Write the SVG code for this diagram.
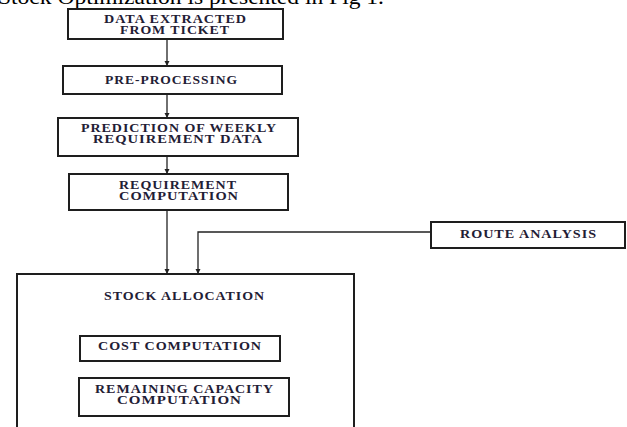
<svg xmlns="http://www.w3.org/2000/svg" width="627" height="427" viewBox="0 0 627 427">
<defs>
<marker id="ah" markerWidth="6" markerHeight="6" refX="5" refY="3" orient="auto" markerUnits="userSpaceOnUse">
<path d="M0,0.5 L5,3 L0,5.5 Z" fill="#222"/>
</marker>
<style>
.box{fill:#fff;stroke:#1e1e1e;stroke-width:2}
.lbl{font-family:"Liberation Serif","Times New Roman",serif;font-weight:bold;font-size:11.5px;letter-spacing:0.8px;fill:#1f2035;text-anchor:middle}
.con{fill:none;stroke:#222;stroke-width:1.3;marker-end:url(#ah)}
.cap{font-family:"Liberation Serif","Times New Roman",serif;font-size:20px;fill:#000}
</style>
</defs>
<rect width="627" height="427" fill="#fff"/>
<text class="cap" x="-2" y="4" textLength="386" lengthAdjust="spacingAndGlyphs">Stock Optimization is presented in Fig 1.</text>
<g id="connectors">
<path class="con" d="M167,39 V66"/>
<path class="con" d="M167,94 V118"/>
<path class="con" d="M167,156 V174"/>
<path class="con" d="M167,210 V274"/>
<path class="con" d="M431,232 H198 V274"/>
</g>
<g id="n1">
<rect class="box" x="68" y="9" width="215" height="30"/>
<text class="lbl" x="175.5" y="23" textLength="143" lengthAdjust="spacingAndGlyphs">DATA EXTRACTED</text>
<text class="lbl" x="175" y="33.5" textLength="110" lengthAdjust="spacingAndGlyphs">FROM TICKET</text>
</g>
<g id="n2">
<rect class="box" x="63" y="66" width="219" height="28"/>
<text class="lbl" x="171.5" y="84" textLength="133" lengthAdjust="spacingAndGlyphs">PRE-PROCESSING</text>
</g>
<g id="n3">
<rect class="box" x="58" y="118" width="240" height="38"/>
<text class="lbl" x="179" y="132" textLength="196" lengthAdjust="spacingAndGlyphs">PREDICTION OF WEEKLY</text>
<text class="lbl" x="178" y="143" textLength="170" lengthAdjust="spacingAndGlyphs">REQUIREMENT DATA</text>
</g>
<g id="n4">
<rect class="box" x="69" y="174" width="219" height="36"/>
<text class="lbl" x="178" y="188.5" textLength="118" lengthAdjust="spacingAndGlyphs">REQUIREMENT</text>
<text class="lbl" x="179" y="199.5" textLength="120" lengthAdjust="spacingAndGlyphs">COMPUTATION</text>
</g>
<g id="n5">
<rect class="box" x="431" y="222" width="194" height="26"/>
<text class="lbl" x="528.5" y="237.5" textLength="137" lengthAdjust="spacingAndGlyphs">ROUTE ANALYSIS</text>
</g>
<g id="n6">
<rect class="box" x="17" y="274" width="337" height="160"/>
<text class="lbl" x="184.5" y="300" textLength="161" lengthAdjust="spacingAndGlyphs">STOCK ALLOCATION</text>
</g>
<g id="n7">
<rect class="box" x="80" y="336" width="200" height="25"/>
<text class="lbl" x="180" y="350" textLength="164" lengthAdjust="spacingAndGlyphs">COST COMPUTATION</text>
</g>
<g id="n8">
<rect class="box" x="79" y="378" width="210" height="38"/>
<text class="lbl" x="184.5" y="393" textLength="179" lengthAdjust="spacingAndGlyphs">REMAINING CAPACITY</text>
<text class="lbl" x="179.5" y="403.5" textLength="125" lengthAdjust="spacingAndGlyphs">COMPUTATION</text>
</g>
</svg>
